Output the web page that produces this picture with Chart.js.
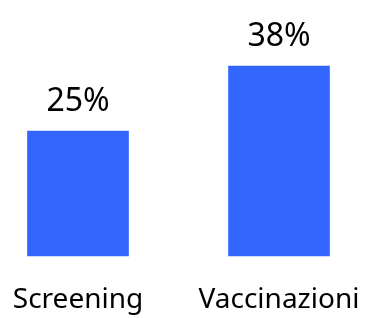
<!DOCTYPE html>
<html>
<head>
<meta charset="utf-8">
<script src="https://cdn.jsdelivr.net/npm/chart.js@4"></script>
<style>
  html, body { margin: 0; padding: 0; background: #ffffff; }
  #wrap { width: 366px; height: 318px; }
</style>
</head>
<body>
<div id="wrap"><canvas id="c" width="366" height="318"></canvas></div>
<script>
const categories = ["Screening", "Vaccinazioni"];
const values = [25, 38];
const valueLabels = ["25%", "38%"];

const barColor = "#3366FF";
const fontFamily = "'Noto Sans', sans-serif";

const valueLabelPlugin = {
  id: "valueLabels",
  afterDatasetsDraw(chart) {
    const ctx = chart.ctx;
    const meta = chart.getDatasetMeta(0);
    ctx.save();
    ctx.fillStyle = "#000000";
    ctx.font = "32px " + fontFamily;
    ctx.textAlign = "center";
    ctx.textBaseline = "alphabetic";
    meta.data.forEach((bar, i) => {
      ctx.fillText(valueLabels[i], bar.x, bar.y - 20);
    });
    ctx.restore();
  }
};

new Chart(document.getElementById("c"), {
  type: "bar",
  data: {
    labels: categories,
    datasets: [{
      data: values,
      backgroundColor: barColor,
      borderWidth: 0,
      barThickness: 101,
      clip: false
    }]
  },
  options: {
    responsive: false,
    animation: false,
    layout: { padding: { left: 78, right: 87, top: 56, bottom: 0 } },
    plugins: { legend: { display: false }, tooltip: { enabled: false } },
    scales: {
      x: {
        offset: false,
        grid: { display: false, drawTicks: false },
        border: { display: false },
        ticks: {
          color: "#000000",
          padding: 27,
          maxRotation: 0,
          autoSkip: false,
          font: { family: fontFamily, size: 28 }
        },
        afterFit(scale) {
          scale.height = 62;
          scale.paddingLeft = 0;
          scale.paddingRight = 0;
        }
      },
      y: {
        display: false,
        min: 0,
        max: 40
      }
    }
  },
  plugins: [valueLabelPlugin]
});
</script>
</body>
</html>
